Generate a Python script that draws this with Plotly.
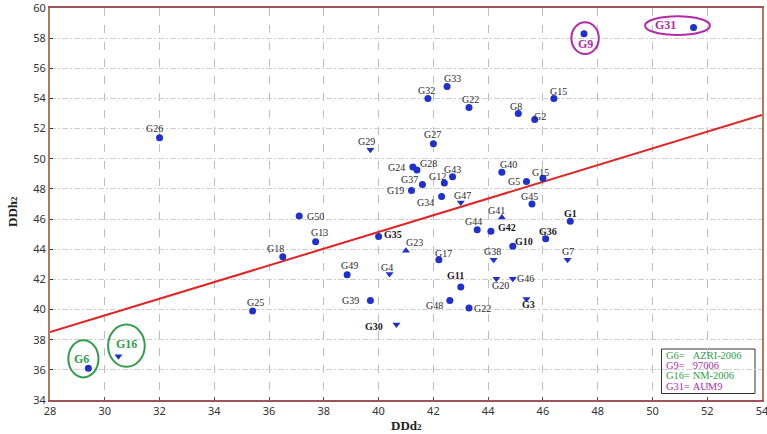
import plotly.graph_objects as go

# ---------------- data ----------------
names = ["G26", "G33", "G32", "G22", "G27", "G29", "G24", "G28", "G43", "G37",
         "G12", "G19", "G34", "G47", "G50", "G40", "G5", "G15", "G45", "G41",
         "G44", "G42", "G1", "G36", "G10", "G8", "G2", "G15", "G9", "G31",
         "G35", "G13", "G18", "G23", "G17", "G49", "G4", "G11", "G48", "G22",
         "G39", "G25", "G30", "G38", "G20", "G46", "G3", "G7", "G6", "G16"]
ddd2 = [32.0, 42.5, 41.8, 43.3, 42.0, 39.7, 41.25, 41.4, 42.7, 41.6,
        42.4, 41.2, 42.3, 43.0, 37.1, 44.5, 45.4, 46.0, 45.6, 44.5,
        43.6, 44.1, 47.0, 46.1, 44.9, 45.1, 45.7, 46.4, 47.5, 51.5,
        40.0, 37.7, 36.5, 41.0, 42.2, 38.85, 40.4, 43.0, 42.6, 43.3,
        39.7, 35.4, 40.65, 44.2, 44.3, 44.9, 45.4, 46.9, 29.4, 30.5]
ddh2 = [51.4, 54.8, 54.0, 53.4, 51.0, 50.6, 49.45, 49.25, 48.8, 48.3,
        48.4, 47.9, 47.5, 47.1, 46.2, 49.1, 48.5, 48.7, 47.0, 46.1,
        45.3, 45.2, 45.85, 44.7, 44.2, 53.0, 52.6, 54.0, 58.3, 58.7,
        44.85, 44.5, 43.5, 43.9, 43.3, 42.3, 42.35, 41.5, 40.6, 40.1,
        40.6, 39.9, 39.0, 43.3, 42.05, 42.05, 40.7, 43.3, 36.1, 36.9]

line_x = [28, 54]
line_y = [38.5, 52.9]

x_ticks = [28, 30, 32, 34, 36, 38, 40, 42, 44, 46, 48, 50, 52, 54]
y_ticks = [34, 36, 38, 40, 42, 44, 46, 48, 50, 52, 54, 56, 58, 60]

legend_lines = ["G6=&nbsp;&nbsp;&nbsp;AZRI-2006", "G9=&nbsp;&nbsp;&nbsp;97006",
                "G16=&nbsp;NM-2006", "G31=&nbsp;AUM9"]

x_title = "DDd<span style='font-size:9px'>2</span>"
y_title = "DDh<span style='font-size:9px'>2</span>"

# ---------------- styles ----------------
GREEN = "#2e9e4a"
MAGENTA = "#b42aa8"
BLUE = "#1f30d0"
LABEL_FONT = "Liberation Serif"

# plot area in pixels
L, R, T, B = 50, 762, 8, 400

# label offsets in pixels (dx right, dy down)
offsets = [(-5, -9), (5, -8), (-1, -8), (2, -8), (-1, -9), (-4, -8), (-16, 0), (12, -7), (0, -7), (-13, -5),
           (-7, -6), (-16, 0), (-16, 6), (2, -7), (16, 0), (7, -8), (-12, 0), (-2, -6), (-2, -8), (-5, -7),
           (-4, -8), (16, -4), (0, -8), (2, -7), (11, -5), (-2, -7), (5, -3), (5, -7), (1, 10), (-28, -3),
           (14, -2), (4, -9), (-7, -8), (8, -8), (5, -6), (2, -9), (-3, -7), (-5, -11), (-15, 5), (14, 0),
           (-20, 0), (3, -9), (-22, 2), (-1, -8), (4, 7), (13, 0), (2, 6), (0, -8), (-7, -9), (8, -12)]
bold_set = {"G35", "G42", "G10", "G36", "G1", "G11", "G3", "G30"}
tri_down = {"G16", "G4", "G30", "G38", "G20", "G46", "G7", "G3", "G47", "G29"}
tri_up = {"G23", "G41"}
green_set = {"G6", "G16"}
magenta_set = {"G9", "G31"}

symbols = ["triangle-down" if n in tri_down else ("triangle-up" if n in tri_up else "circle") for n in names]

fig = go.Figure()

fig.add_trace(go.Scatter(x=line_x, y=line_y, mode="lines",
                         line=dict(color="#e02424", width=2), hoverinfo="skip", showlegend=False))

fig.add_trace(go.Scatter(x=ddd2, y=ddh2, mode="markers", text=names,
                         marker=dict(color=BLUE, size=7, symbol=symbols, line=dict(width=0)),
                         showlegend=False))

annotations = []
for n, xv, yv, (dx, dy) in zip(names, ddd2, ddh2, offsets):
    if n in green_set:
        col, size, txt = GREEN, 12, f"<b>{n}</b>"
    elif n in magenta_set:
        col, size, txt = MAGENTA, 12, f"<b>{n}</b>"
    elif n in bold_set:
        col, size, txt = "#1a1a1a", 10, f"<b>{n}</b>"
    else:
        col, size, txt = "#2a2a2a", 10, n
    annotations.append(dict(x=xv, y=yv, xref="x", yref="y", text=txt, showarrow=False,
                            xshift=dx, yshift=-dy,
                            font=dict(family=LABEL_FONT, size=size, color=col)))

# legend box text
leg_colors = [GREEN, MAGENTA, GREEN, MAGENTA]
leg_y_px = [355, 365.5, 375.5, 386]
for t, c, ypx in zip(legend_lines, leg_colors, leg_y_px):
    yp = (B - ypx) / (B - T)
    annotations.append(dict(x=(664 - L) / (R - L), y=yp, xref="paper", yref="paper",
                            xanchor="left", yanchor="middle", text=t, showarrow=False,
                            font=dict(family=LABEL_FONT, size=10.5, color=c)))

# axis titles
annotations.append(dict(x=0.5, y=(B - 425) / (B - T), xref="paper", yref="paper",
                        text=f"<b>{x_title}</b>", showarrow=False, yanchor="middle",
                        font=dict(family=LABEL_FONT, size=13, color="#222222")))
annotations.append(dict(x=(12 - L) / (R - L), y=(B - 212) / (B - T), xref="paper", yref="paper",
                        text=f"<b>{y_title}</b>", showarrow=False, textangle=-90,
                        xanchor="center", yanchor="middle",
                        font=dict(family=LABEL_FONT, size=13, color="#222222")))

shapes = [
    # legend frame
    dict(type="rect", xref="paper", yref="paper",
         x0=(661.5 - L) / (R - L), x1=(755 - L) / (R - L),
         y0=(B - 393.5) / (B - T), y1=(B - 349) / (B - T),
         line=dict(color="#333333", width=1), fillcolor="white", layer="below"),
    # highlight ellipses
    dict(type="circle", xref="x", yref="y", x0=28.67, x1=29.77, y0=35.5, y1=37.97,
         line=dict(color=GREEN, width=2)),
    dict(type="circle", xref="x", yref="y", x0=30.12, x1=31.46, y0=36.2, y1=39.0,
         line=dict(color=GREEN, width=2)),
    dict(type="circle", xref="x", yref="y", x0=47.04, x1=48.04, y0=56.95, y1=59.05,
         line=dict(color=MAGENTA, width=2)),
    dict(type="circle", xref="x", yref="y", x0=49.73, x1=52.1, y0=58.21, y1=59.45,
         line=dict(color=MAGENTA, width=2)),
]

fig.update_layout(
    width=767, height=434,
    margin=dict(l=L, r=767 - R, t=T, b=434 - B),
    paper_bgcolor="white", plot_bgcolor="white",
    annotations=annotations, shapes=shapes,
    font=dict(family="Noto Sans", size=11, color="#333333"),
    xaxis=dict(range=[28, 54], tickvals=x_ticks, ticktext=[str(v) for v in x_ticks],
               automargin=False, ticklabeloverflow="allow",
               showgrid=True, gridcolor="#bdbdbd", griddash="8px,9px", gridwidth=1.3,
               showline=True, linecolor="#a0525a", linewidth=2, mirror=True,
               ticks="inside", ticklen=3, tickcolor="#555555",
               zeroline=False, tickfont=dict(family="Noto Sans", size=11, color="#333333")),
    yaxis=dict(range=[34, 60], tickvals=y_ticks, ticktext=[str(v) for v in y_ticks],
               automargin=False, ticklabeloverflow="allow",
               showgrid=True, gridcolor="#cfcfcf", griddash="6px,2px,2px,2px", gridwidth=1,
               showline=True, linecolor="#b07a60", linewidth=2, mirror=True,
               ticks="inside", ticklen=3, tickcolor="#333333",
               zeroline=False, tickfont=dict(family="Noto Sans", size=11, color="#333333")),
)

fig.write_html("out.html", config={"displayModeBar": False},
               post_script="document.body.style.margin='0';document.body.style.overflow='hidden';")
